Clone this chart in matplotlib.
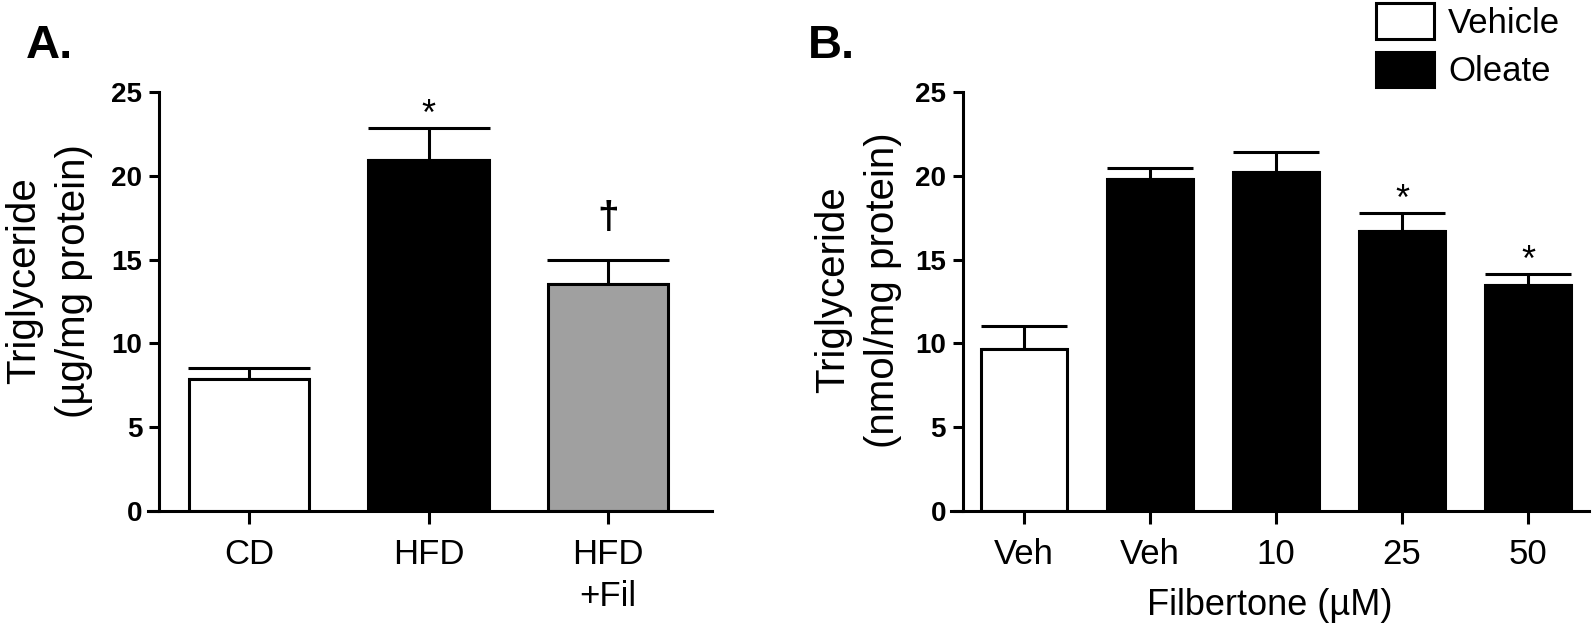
import matplotlib
matplotlib.use('Agg')
import matplotlib.pyplot as plt
from matplotlib.patches import Patch
from matplotlib.transforms import blended_transform_factory

plt.rcParams['font.family'] = ['Liberation Sans', 'DejaVu Sans']

# ---- Panel A data ----
a_labels = ['CD', 'HFD', 'HFD\n+Fil']
a_means = [7.87, 20.95, 13.55]
a_sem = [0.68, 1.9, 1.45]
a_colors = ['white', 'black', '#a0a0a0']
a_marks = ['', '*', '\u2020']

# ---- Panel B data ----
b_labels = ['Veh', 'Veh', '10', '25', '50']
b_means = [9.66, 19.80, 20.21, 16.73, 13.50]
b_sem = [1.40, 0.69, 1.19, 1.03, 0.62]
b_colors = ['white', 'black', 'black', 'black', 'black']
b_marks = ['', '', '', '*', '*']

y_ticks = [0, 5, 10, 15, 20, 25]

W, H = 1594, 629
fig = plt.figure(figsize=(W / 100, H / 100), dpi=100)

lw = 2.2


def px_box(x0, x1, y_top, y_bot):
    return [x0 / W, 1 - y_bot / H, (x1 - x0) / W, (y_bot - y_top) / H]


def draw_panel(ax, labels, means, sem, colors, marks, xlim, spine_x, width, capsize):
    # spines first: moving a spine resets the tick labels
    ax.spines['top'].set_visible(False)
    ax.spines['right'].set_visible(False)
    ax.spines['left'].set_position(('data', spine_x))
    ax.spines['left'].set_bounds(0, 25)
    ax.spines['left'].set_linewidth(lw)
    ax.spines['bottom'].set_linewidth(lw)

    x = list(range(len(means)))
    ax.bar(x, means, width=width, color=colors, edgecolor='black', linewidth=lw, zorder=2)
    ax.errorbar(x, means, yerr=[[0] * len(sem), sem], fmt='none', ecolor='black',
                elinewidth=lw, capsize=capsize, capthick=lw, zorder=1)
    for xi, m, e, mk in zip(x, means, sem, marks):
        if mk == '*':
            ax.annotate(mk, xy=(xi, m + e), xytext=(0, 2.5), textcoords='offset points',
                        ha='center', va='baseline', fontsize=26)
        elif mk:
            ax.annotate(mk, xy=(xi, m + e), xytext=(0, 17), textcoords='offset points',
                        ha='center', va='bottom', fontsize=28, fontweight='bold')
    ax.set_xlim(*xlim)
    ax.set_ylim(0, 25)
    ax.set_yticks(y_ticks, labels=[str(v) for v in y_ticks], fontsize=20, fontweight='bold')
    ax.set_xticks(x, labels=labels, fontsize=25, linespacing=1.35)
    ax.tick_params(axis='y', length=7.2, width=lw, pad=5)
    ax.tick_params(axis='x', length=9.4, width=lw, pad=10)


# Panel A
ax_a = fig.add_axes(px_box(148, 712, 92, 511))
draw_panel(ax_a, a_labels, a_means, a_sem, a_colors, a_marks,
           (-0.563, 2.579), -0.501, 0.67, 44)
ax_a.set_ylabel('Triglyceride\n(\u00b5g/mg protein)', fontsize=29, linespacing=1.38)
ax_a.yaxis.set_label_coords(93 / W, 1 - 281 / H, transform=fig.transFigure)
fig.text(26 / W, 1 - 58 / H, 'A.', fontsize=34, fontweight='bold', ha='left', va='baseline')

# Panel B
ax_b = fig.add_axes(px_box(951, 1589, 92, 511))
draw_panel(ax_b, b_labels, b_means, b_sem, b_colors, b_marks,
           (-0.579, 4.484), -0.484, 0.68, 31)
ax_b.set_ylabel('Triglyceride\n(nmol/mg protein)', fontsize=29, linespacing=1.38)
ax_b.yaxis.set_label_coords(902 / W, 1 - 290 / H, transform=fig.transFigure)
ax_b.set_xlabel('Filbertone (\u00b5M)', fontsize=26)
ax_b.xaxis.set_label_coords(0.5, 1 - 588 / H,
                            transform=blended_transform_factory(ax_b.transAxes, fig.transFigure))
fig.text(808 / W, 1 - 58 / H, 'B.', fontsize=34, fontweight='bold', ha='left', va='baseline')

# Legend
handles = [Patch(facecolor='white', edgecolor='black', linewidth=lw, label='Vehicle'),
           Patch(facecolor='black', edgecolor='black', linewidth=lw, label='Oleate')]
fig.legend(handles=handles, loc='upper left', bbox_to_anchor=(1376 / W, 1 - 3 / H),
           bbox_transform=fig.transFigure, frameon=False, fontsize=25, borderpad=0,
           borderaxespad=0, handlelength=1.67, handleheight=1.2, labelspacing=0.35,
           handletextpad=0.4)

plt.savefig('out.png', dpi=100)
